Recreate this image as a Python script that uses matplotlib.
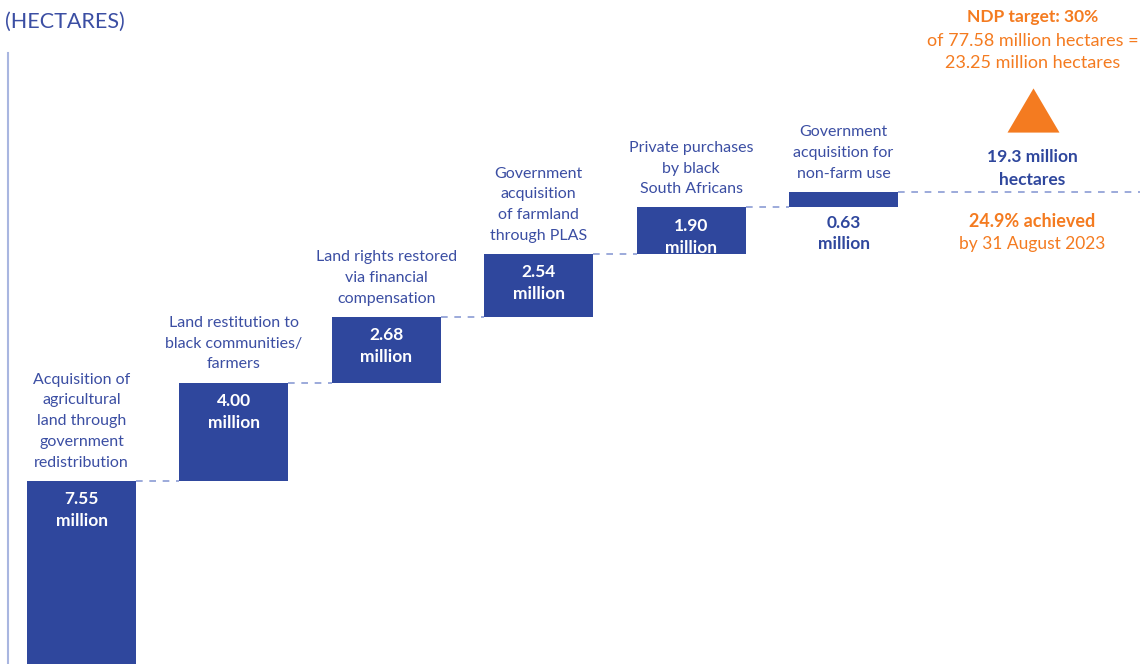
import numpy as np
from matplotlib import pyplot as plt

categories = ["Acquisition of\nagricultural\nland through\ngovernment\nredistribution",
              "Land restitution to\nblack communities/\nfarmers",
              "Land rights restored\nvia financial\ncompensation",
              "Government\nacquisition\nof farmland\nthrough PLAS",
              "Private purchases\nby black\nSouth Africans",
              "Government\nacquisition for\nnon-farm use"]
values = [7.55, 4.00, 2.68, 2.54, 1.90, 0.63]
total = 19.3

bar_color = "#2f479d"
text_blue = "#3b4ea3"
dash_color = "#8b9cd4"
orange = "#f47b20"

plt.rcParams['font.family'] = ['Lato', 'DejaVu Sans']

fig = plt.figure(figsize=(11.4, 6.64), dpi=100)
ax = fig.add_axes([0, 0, 1, 1])

# pixel -> data scale: 152.4 px per category, 24.6 px per million
ax.set_xlim(-0.535, 6.945)
ax.set_ylim(0.11, 27.1)
ax.axis('off')

x = np.arange(len(values))
bottoms = np.concatenate(([0], np.cumsum(values)[:-1]))
tops = bottoms + np.array(values)
width = 0.715

ax.bar(x, values, bottom=bottoms, width=width, color=bar_color, zorder=3)

# connectors
for i in range(len(values) - 1):
    ax.plot([x[i] + width / 2, x[i + 1] - width / 2], [tops[i], tops[i]],
            color=dash_color, lw=1.2, ls=(0, (4, 4)), zorder=2)
ax.plot([x[-1] + width / 2, 6.945], [tops[-1], tops[-1]],
        color=dash_color, lw=1.2, ls=(0, (4, 4)), zorder=2)

# value labels
for i, v in enumerate(values):
    label = "%.2f\nmillion" % v
    if v > 1.5:
        ax.text(x[i], tops[i] - 0.42, label, ha='center', va='top', color='white',
                fontsize=12.5, fontweight='bold', linespacing=1.45, zorder=4)
    else:
        ax.text(x[i], bottoms[i] - 0.3, label, ha='center', va='top', color=bar_color,
                fontsize=12.5, fontweight='bold', linespacing=1.4)

# category labels
for i, c in enumerate(categories):
    ax.text(x[i], tops[i] + 0.45, c, ha='center', va='bottom', color=text_blue,
            fontsize=11.5, linespacing=1.62)

# left axis line
ax.plot([-0.482, -0.482], [0.11, 24.95], color="#a9b6e0", lw=1.5, zorder=1)

# heading
fig.text(5 / 1140, 1 - 22 / 664, "(HECTARES)", ha='left', va='center',
         color=text_blue, fontsize=15.5)

# right side annotation
cx = 6.24
ax.text(cx, 26.4, "NDP target: 30%", ha='center', va='center', color=orange,
        fontsize=12.5, fontweight='bold')
ax.text(cx, 25.44, "of 77.58 million hectares =", ha='center', va='center',
        color=orange, fontsize=13)
ax.text(cx, 24.54, "23.25 million hectares", ha='center', va='center',
        color=orange, fontsize=13)
tri = [(0, 0.85), (-1, -0.85), (1, -0.85)]
ax.scatter([cx], [22.63], marker=tri, s=1400, color=orange, zorder=3, linewidths=0)
ax.text(cx, 20.72, "19.3 million", ha='center', va='center',
        color=bar_color, fontsize=12.5, fontweight='bold')
ax.text(cx, 19.78, "hectares", ha='center', va='center',
        color=bar_color, fontsize=12.5, fontweight='bold')
ax.text(cx, 18.08, "24.9% achieved", ha='center', va='center', color=orange,
        fontsize=13, fontweight='bold')
ax.text(cx, 17.18, "by 31 August 2023", ha='center', va='center', color=orange,
        fontsize=12.5)

fig.savefig("out.png", dpi=100)
